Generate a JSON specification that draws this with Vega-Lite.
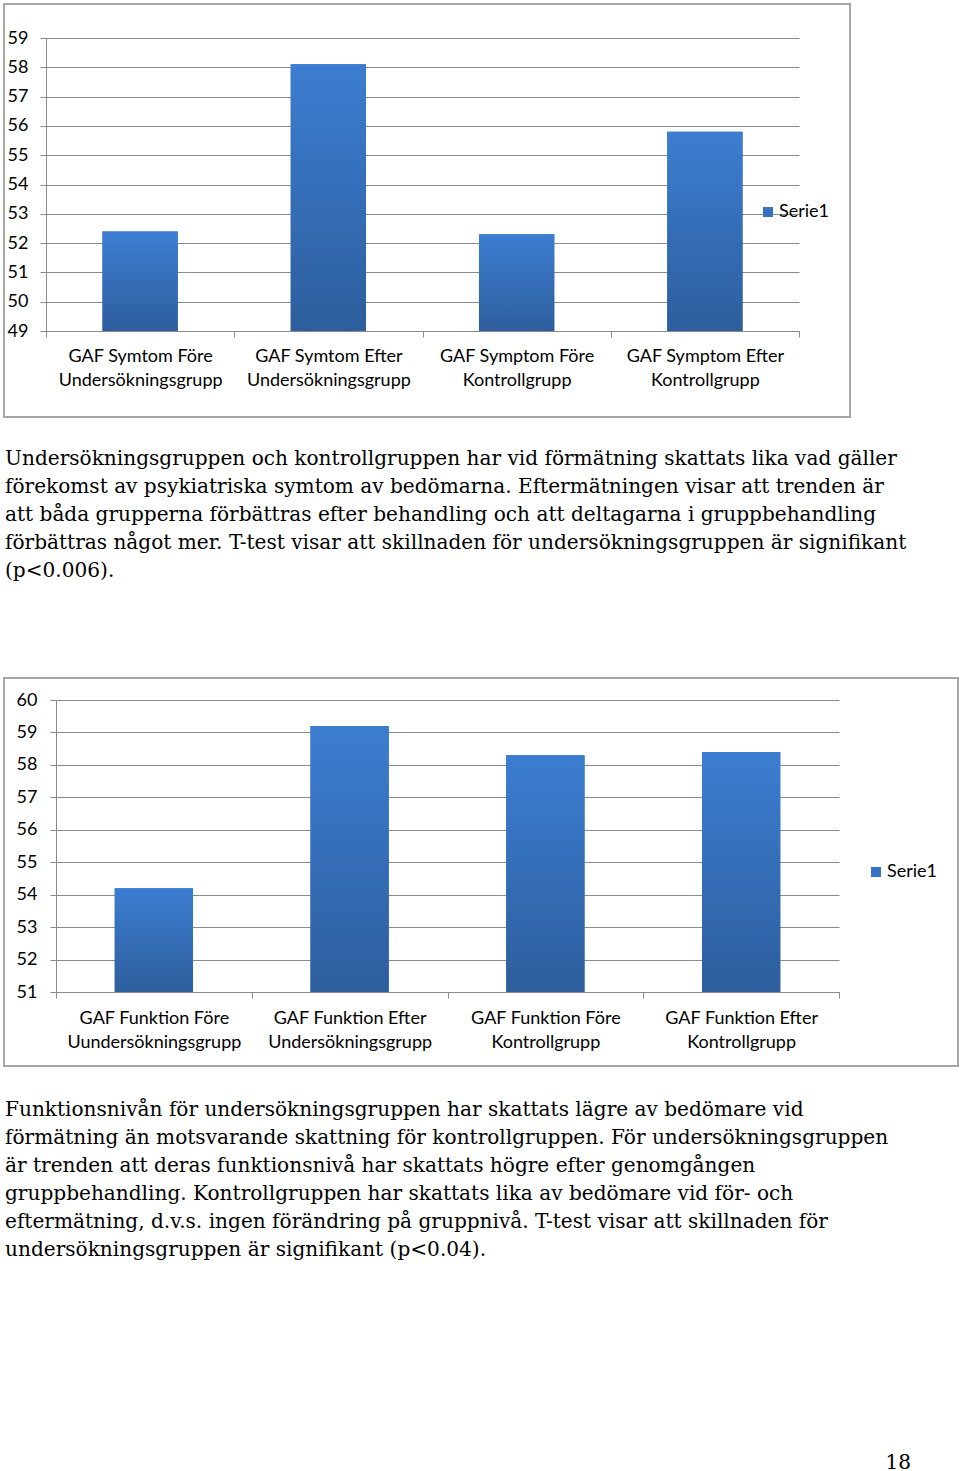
{
  "$schema": "https://vega.github.io/schema/vega-lite/v6.json",
  "background": "white",
  "padding": {"left": 3, "top": 3, "right": 0, "bottom": 0},
  "config": {
    "view": {"stroke": "#a6a6a6", "strokeWidth": 2},
    "axis": {"labelFont": "Lato", "labelFontSize": 18, "labelColor": "#000000", "domainColor": "#8a8a8a", "tickColor": "#8a8a8a", "gridColor": "#8a8a8a", "gridOpacity": 1, "title": null},
    "legend": {"labelFont": "Lato", "labelFontSize": 18, "labelColor": "#000000"}
  },
  "resolve": {"scale": {"color": "independent"}, "legend": {"color": "independent"}},
  "spacing": 29,
  "vconcat": [
    {
      "width": 846,
      "height": 413,
      "data": {"values": [
        {"kategori": "GAF Symtom Före Undersökningsgrupp", "värde": 52.4, "serie": "Serie1"},
        {"kategori": "GAF Symtom Efter Undersökningsgrupp", "värde": 58.1, "serie": "Serie1"},
        {"kategori": "GAF Symptom Före Kontrollgrupp", "värde": 52.3, "serie": "Serie1"},
        {"kategori": "GAF Symptom Efter Kontrollgrupp", "värde": 55.8, "serie": "Serie1"}
      ]},
      "encoding": {
        "x": {"field": "kategori", "type": "nominal", "sort": null,
          "scale": {"range": [42, 795], "paddingInner": 0, "paddingOuter": 0},
          "axis": {"orient": "bottom", "offset": -86, "tickBand": "extent", "tickSize": 6, "labelAngle": 0, "labelOverlap": false, "labelLimit": 400, "labelPadding": 10, "labelLineHeight": 24, "labelBound": false, "grid": false,
            "labelExpr": "[slice(datum.label, 0, lastindexof(datum.label, ' ')), slice(datum.label, lastindexof(datum.label, ' ') + 1)]"}},
        "y": {"field": "värde", "type": "quantitative",
          "scale": {"domain": [49, 59], "range": [327, 34], "nice": false, "zero": false},
          "axis": {"orient": "left", "offset": -42, "values": [49, 50, 51, 52, 53, 54, 55, 56, 57, 58, 59], "grid": true, "tickSize": 6, "labelPadding": 12}},
        "y2": {"datum": 49}
      },
      "layer": [
        {"mark": {"type": "bar", "width": {"band": 0.4}},
         "encoding": {"color": {"field": "serie", "type": "nominal", "scale": {"range": ["#3873c3"]},
           "legend": {"orient": "none", "legendX": 755, "legendY": 199, "title": null, "symbolType": "square", "symbolSize": 100, "symbolStrokeWidth": 0, "padding": 0, "labelOffset": 2}}}},
        {"mark": {"type": "bar", "width": {"band": 0.4}, "fill": {"gradient": "linear", "x1": 0, "y1": 0, "x2": 0, "y2": 1, "stops": [{"offset": 0, "color": "#3c7dd1"}, {"offset": 1, "color": "#2d5e9d"}]}}}
      ]
    },
    {
      "title": {"text": [
        "Funktionsnivån för undersökningsgruppen har skattats lägre av bedömare vid",
        "förmätning än motsvarande skattning för kontrollgruppen. För undersökningsgruppen",
        "är trenden att deras funktionsnivå har skattats högre efter genomgången",
        "gruppbehandling. Kontrollgruppen har skattats lika av bedömare vid för- och",
        "eftermätning, d.v.s. ingen förändring på gruppnivå. T-test visar att skillnaden för",
        "undersökningsgruppen är signifikant (p<0.04)."
      ], "orient": "bottom", "anchor": "start", "frame": "group", "font": "DejaVu Serif", "fontSize": 20.1, "fontWeight": "normal", "lineHeight": 28, "color": "#000000", "baseline": "top", "offset": 33, "dx": 1},
      "resolve": {"scale": {"color": "independent"}, "legend": {"color": "independent"}},
      "vconcat": [
        {
          "title": {"text": [
            "Undersökningsgruppen och kontrollgruppen har vid förmätning skattats lika vad gäller",
            "förekomst av psykiatriska symtom av bedömarna. Eftermätningen visar att trenden är",
            "att båda grupperna förbättras efter behandling och att deltagarna i gruppbehandling",
            "förbättras något mer. T-test visar att skillnaden för undersökningsgruppen är signifikant",
            "(p<0.006)."
          ], "orient": "top", "anchor": "start", "frame": "group", "font": "DejaVu Serif", "fontSize": 20.1, "fontWeight": "normal", "lineHeight": 28, "color": "#000000", "baseline": "bottom", "offset": 77, "dx": 1},
          "width": 954,
          "height": 388,
          "data": {"values": [
            {"kategori": "GAF Funktion Före Uundersökningsgrupp", "värde": 54.2, "serie": "Serie1"},
            {"kategori": "GAF Funktion Efter Undersökningsgrupp", "värde": 59.2, "serie": "Serie1"},
            {"kategori": "GAF Funktion Före Kontrollgrupp", "värde": 58.3, "serie": "Serie1"},
            {"kategori": "GAF Funktion Efter Kontrollgrupp", "värde": 58.4, "serie": "Serie1"}
          ]},
          "encoding": {
            "x": {"field": "kategori", "type": "nominal", "sort": null,
              "scale": {"range": [52, 835], "paddingInner": 0, "paddingOuter": 0},
              "axis": {"orient": "bottom", "offset": -74, "tickBand": "extent", "tickSize": 6, "labelAngle": 0, "labelOverlap": false, "labelLimit": 400, "labelPadding": 11, "labelLineHeight": 24, "labelBound": false, "grid": false,
                "labelExpr": "[slice(datum.label, 0, lastindexof(datum.label, ' ')), slice(datum.label, lastindexof(datum.label, ' ') + 1)]"}},
            "y": {"field": "värde", "type": "quantitative",
              "scale": {"domain": [51, 60], "range": [314, 22], "nice": false, "zero": false},
              "axis": {"orient": "left", "offset": -52, "values": [51, 52, 53, 54, 55, 56, 57, 58, 59, 60], "grid": true, "tickSize": 6, "labelPadding": 13}},
            "y2": {"datum": 51}
          },
          "layer": [
            {"mark": {"type": "bar", "width": {"band": 0.4}},
             "encoding": {"color": {"field": "serie", "type": "nominal", "scale": {"range": ["#3873c3"]},
               "legend": {"orient": "none", "legendX": 863, "legendY": 185, "title": null, "symbolType": "square", "symbolSize": 100, "symbolStrokeWidth": 0, "padding": 0, "labelOffset": 2}}}},
            {"mark": {"type": "bar", "width": {"band": 0.4}, "fill": {"gradient": "linear", "x1": 0, "y1": 0, "x2": 0, "y2": 1, "stops": [{"offset": 0, "color": "#3c7dd1"}, {"offset": 1, "color": "#2d5e9d"}]}}}
          ]
        }
      ]
    },
    {
      "width": 907,
      "height": 1,
      "view": {"stroke": null},
      "data": {"values": [{"tom": ""}]},
      "mark": {"type": "text"},
      "encoding": {"text": {"field": "tom", "type": "nominal"}},
      "title": {"text": "18", "orient": "bottom", "anchor": "end", "frame": "group", "font": "DejaVu Serif", "fontSize": 20.1, "fontWeight": "normal", "color": "#000000", "baseline": "top", "offset": 151}
    }
  ]
}
